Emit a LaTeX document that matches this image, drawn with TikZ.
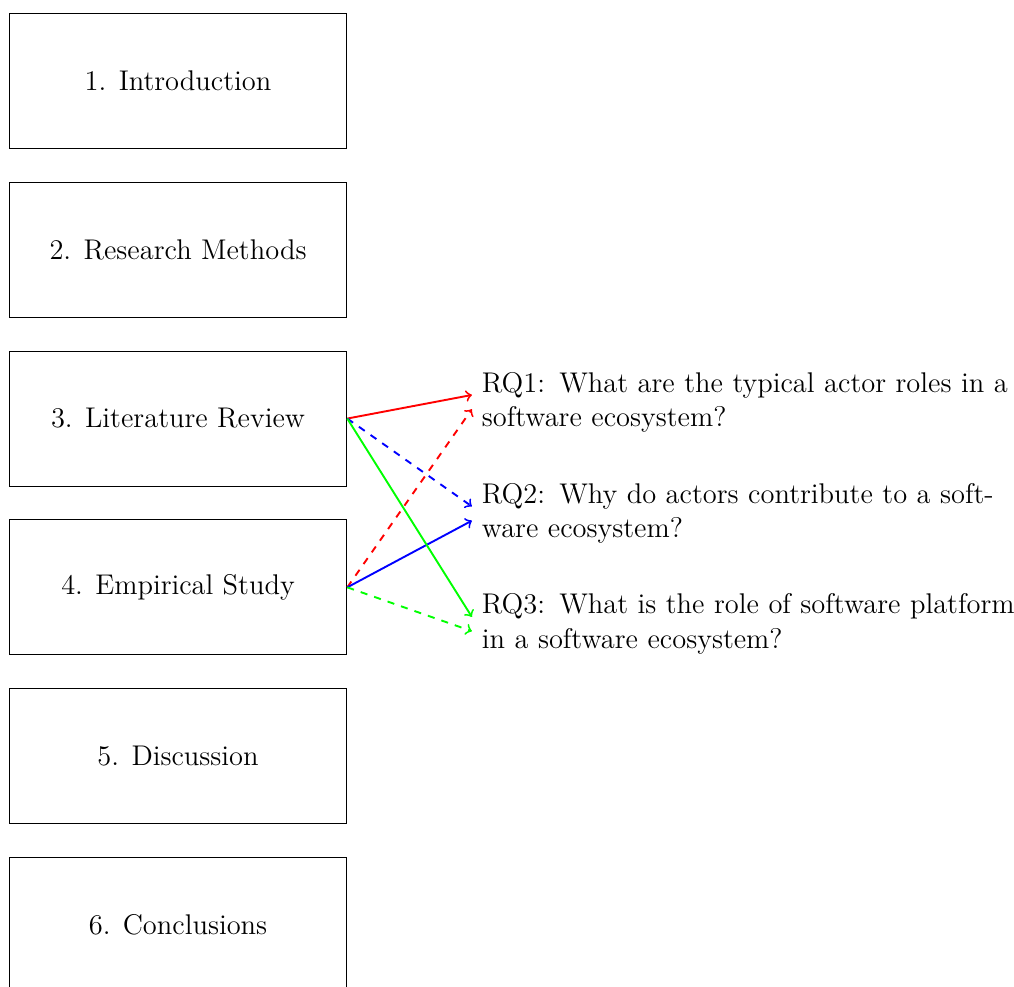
\documentclass[12pt,tikz,border=0pt]{standalone}
\begin{document}
\begin{tikzpicture}[
  chapter/.style={draw, minimum width=5cm, minimum height=2cm, inner sep=0pt},
  rq/.style={text width=8cm, align=left, anchor=west},
  link/.style={->, thick},
]
\useasboundingbox (0,0) rectangle (15.02,-14.62);
\node[chapter] (c1) at (2.637,-1.2) {1. Introduction};
\node[chapter] (c2) at (2.637,-3.7) {2. Research Methods};
\node[chapter] (c3) at (2.637,-6.2) {3. Literature Review};
\node[chapter] (c4) at (2.637,-8.7) {4. Empirical Study};
\node[chapter] (c5) at (2.637,-11.2) {5. Discussion};
\node[chapter] (c6) at (2.637,-13.7) {6. Conclusions};
\node[rq] (rq1) at (6.99,-5.956) {RQ1: What are the typical actor roles in a software ecosystem?};
\node[rq] (rq2) at (6.99,-7.607) {RQ2: Why do actors contribute to a software ecosystem?};
\node[rq] (rq3) at (6.99,-9.244) {RQ3: What is the role of software platform in a software ecosystem?};
\draw[link, red] (c3.east) -- ([yshift=3pt]rq1.west);
\draw[link, red, dashed] (c4.east) -- ([yshift=-3pt]rq1.west);
\draw[link, blue, dashed] (c3.east) -- ([yshift=3pt]rq2.west);
\draw[link, blue] (c4.east) -- ([yshift=-3pt]rq2.west);
\draw[link, green] (c3.east) -- ([yshift=3pt]rq3.west);
\draw[link, green, dashed] (c4.east) -- ([yshift=-3pt]rq3.west);
\end{tikzpicture}
\end{document}
